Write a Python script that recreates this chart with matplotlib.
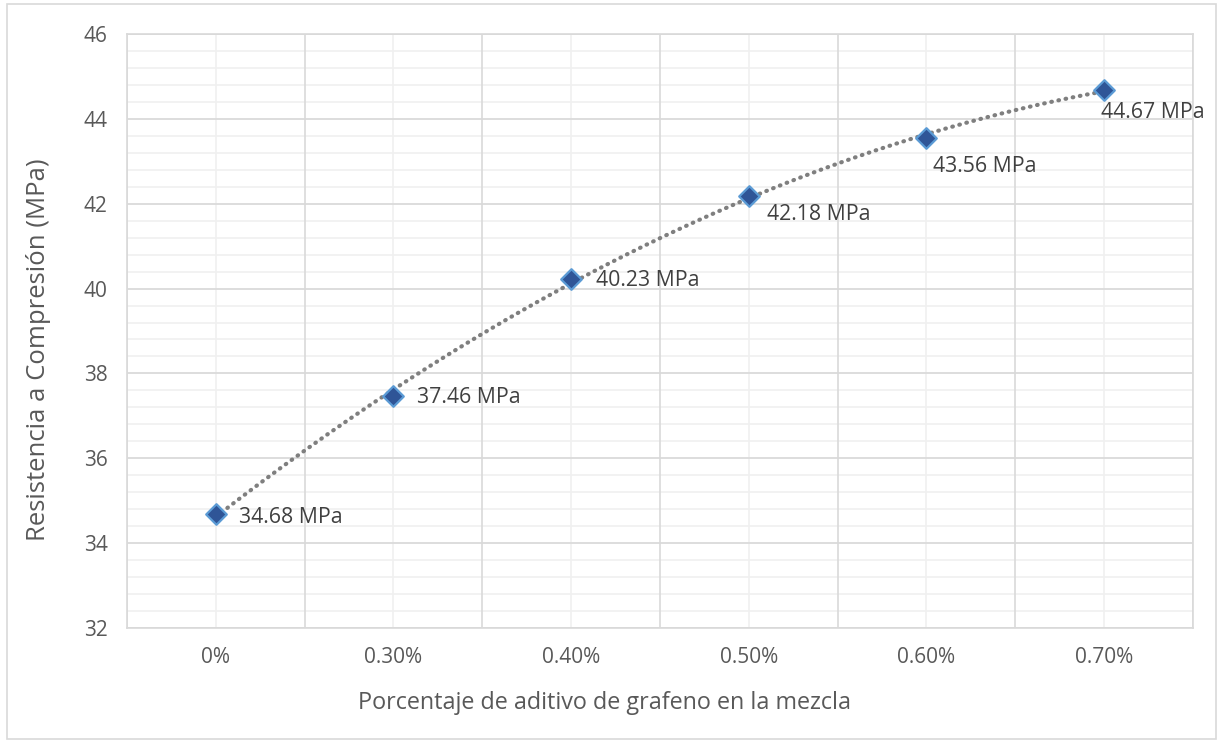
import matplotlib.pyplot as plt
from matplotlib.patches import Rectangle
import numpy as np

# data
categorias = ["0%", "0.30%", "0.40%", "0.50%", "0.60%", "0.70%"]
resistencia = [34.68, 37.46, 40.23, 42.18, 43.56, 44.67]
# label offsets (points) - Excel put the last ones under the marker
desplazamientos = [(17, -2), (17, -1), (18, -1), (13, -13), (5, -21), (-2, -16)]

plt.rcParams['font.family'] = ['Open Sans', 'DejaVu Sans']

fig = plt.figure(figsize=(12.21, 7.42), dpi=100)
ax = fig.add_axes([0.104, 0.1536, 0.873, 0.8006])

x = np.arange(len(categorias))

# trendline (polynomial, like Excel)
coef = np.polyfit(x + 1, resistencia, 2)
xs = np.linspace(0, len(categorias) - 1, 200)
ax.plot(xs, np.polyval(coef, xs + 1), color="#7F7F7F", lw=3,
        linestyle=(0, (0.15, 1.6)), dash_capstyle="round", zorder=3)

ax.scatter(x, resistencia, marker="D", s=110, color="#2F5597",
           edgecolor="#5B9BD5", linewidth=1.6, zorder=4)

for xi, yi, (dx, dy) in zip(x, resistencia, desplazamientos):
    ax.annotate(f"{yi:.2f} MPa", (xi, yi), xytext=(dx, dy),
                textcoords="offset points", fontsize=15.3, color="#404040",
                ha="left", va="center", annotation_clip=False)

ax.set_xlim(-0.5, len(categorias) - 0.5)
ax.set_ylim(32, 46)
ax.set_yticks(np.arange(32, 47, 2))
ax.set_xticks(x)
ax.set_xticklabels(categorias)

# gridlines: category boundaries darker, centers lighter
ax.grid(False)
for xb in np.arange(-0.5, len(categorias), 1):
    ax.axvline(xb, color="#D9D9D9", lw=1.2, zorder=1)
for xc in x:
    ax.axvline(xc, color="#F0F0F0", lw=1.2, zorder=0)
for yv in np.arange(32, 46.01, 0.4):
    ax.axhline(yv, color="#F0F0F0", lw=1.2, zorder=0)
for yv in np.arange(32, 47, 2):
    ax.axhline(yv, color="#D9D9D9", lw=1.2, zorder=1)

for s in ax.spines.values():
    s.set_color("#D9D9D9")
    s.set_linewidth(1.2)

ax.tick_params(which="both", length=0)
ax.tick_params(axis="y", labelsize=15, labelcolor="#595959", pad=14)
ax.tick_params(axis="x", labelsize=15, labelcolor="#595959", pad=14)

ax.set_xlabel("Porcentaje de aditivo de grafeno en la mezcla", fontsize=16.8,
              color="#595959", va="center")
ax.set_ylabel("Resistencia a Compresión (MPa)", fontsize=18.5,
              color="#595959", va="center")
ax.xaxis.set_label_coords(0.448, -0.126)
ax.yaxis.set_label_coords(-0.0826, 0.468)

# outer chart border
fig.patches.append(Rectangle((0.006, 0.004), 0.99, 0.99, transform=fig.transFigure,
                             fill=False, edgecolor="#D9D9D9", lw=1.2))

fig.savefig("out.png", dpi=100)
